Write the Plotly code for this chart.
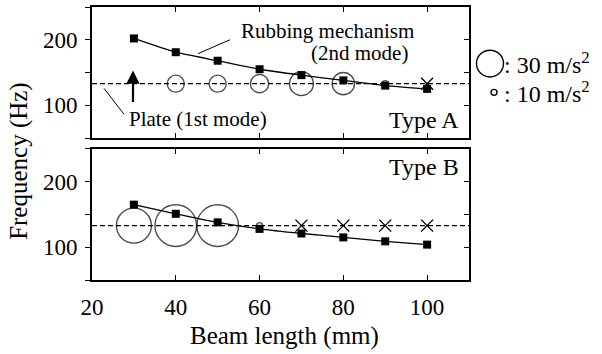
import plotly.graph_objects as go

# ---------------- data ----------------
beam_length = [30, 40, 50, 60, 70, 80, 90, 100]
rubbing_A = [202, 181, 168, 155, 146, 138, 130, 125]
rubbing_B = [165, 151, 138, 128, 121, 115, 109, 104]
plate_freq = 133

# response amplitude (m/s^2) at plate-mode frequency
resp_len_A = [40, 50, 60, 70, 80, 90]
resp_amp_A = [20.5, 20.5, 21.7, 27.0, 25.5, 10.0]
none_len_A = [100]

resp_len_B = [30, 40, 50, 60]
resp_amp_B = [37.6, 44.0, 44.0, 10.0]
none_len_B = [70, 80, 90, 100]

legend_amps = [30, 10]
x_ticks = [20, 40, 60, 80, 100]
y_ticks = [50, 100, 150, 200, 250]
y_ticktext = ["", "100", "", "200", ""]

# ---------------- figure ----------------
FONT = "Liberation Serif"
W, H = 602, 354
L, R, T, B = 92, 133, 5, 74
PW, PH = W - L - R, H - T - B


def amp_to_px(a):
    return 1.05 * a - 4.5


def px(xp):
    return (xp - L) / PW


def py(yp):
    return (H - B - yp) / PH


fig = go.Figure()
LW = 1.4

for sub, (rub, rl, ra, nl) in enumerate(
    [(rubbing_A, resp_len_A, resp_amp_A, none_len_A),
     (rubbing_B, resp_len_B, resp_amp_B, none_len_B)]):
    xa = "x" if sub == 0 else "x2"
    ya = "y" if sub == 0 else "y2"
    fig.add_trace(go.Scatter(x=[min(x_ticks), 110], y=[plate_freq, plate_freq], mode="lines",
                             line=dict(color="black", width=1.3, dash="5px,3px"),
                             xaxis=xa, yaxis=ya, showlegend=False, hoverinfo="skip"))
    fig.add_trace(go.Scatter(x=rl, y=[plate_freq] * len(rl), mode="markers",
                             marker=dict(symbol="circle-open", color="black",
                                         size=[amp_to_px(a) for a in ra],
                                         line=dict(width=LW, color="black")),
                             xaxis=xa, yaxis=ya, showlegend=False))
    fig.add_trace(go.Scatter(x=nl, y=[plate_freq] * len(nl), mode="markers",
                             marker=dict(symbol="x-thin-open", color="black", size=12,
                                         line=dict(width=LW, color="black")),
                             xaxis=xa, yaxis=ya, showlegend=False))
    fig.add_trace(go.Scatter(x=beam_length, y=rub, mode="lines+markers",
                             line=dict(color="black", width=1.3, shape="spline", smoothing=0.6),
                             marker=dict(symbol="square", color="black", size=8),
                             xaxis=xa, yaxis=ya, showlegend=False))

# invisible traces for right-side tick axes
fig.add_trace(go.Scatter(x=[None], y=[None], xaxis="x", yaxis="y3", showlegend=False))
fig.add_trace(go.Scatter(x=[None], y=[None], xaxis="x2", yaxis="y4", showlegend=False))

tickfont = dict(family=FONT, size=23, color="black")
xcommon = dict(range=[20, 110], tickvals=x_ticks, ticks="inside", ticklen=5, tickwidth=1.3,
               showline=True, linewidth=2, linecolor="black", mirror="ticks",
               showgrid=False, zeroline=False, tickfont=tickfont, tickcolor="black")
ycommon = dict(range=[50, 250], tickvals=y_ticks, ticktext=y_ticktext, ticks="outside",
               ticklen=5, tickwidth=1.3, showline=True, linewidth=2, linecolor="black",
               mirror=True, showgrid=False, zeroline=False, tickfont=tickfont,
               tickcolor="black", ticklabelstandoff=3)
yright = dict(range=[50, 250], tickvals=y_ticks, ticks="inside", ticklen=5, tickwidth=1.3,
              showticklabels=False, showline=False, showgrid=False, zeroline=False,
              side="right", tickcolor="black")

top_dom = [(H - B - 137) / PH, 1]
bot_dom = [0, (H - B - 148) / PH]

fig.update_layout(
    width=W, height=H, margin=dict(l=L, r=R, t=T, b=B),
    paper_bgcolor="white", plot_bgcolor="white",
    font=dict(family=FONT, color="black"),
    xaxis=dict(**xcommon, anchor="y", showticklabels=False),
    xaxis2=dict(**xcommon, anchor="y2", showticklabels=True, ticklabelstandoff=5),
    yaxis=dict(**ycommon, domain=top_dom, anchor="x"),
    yaxis2=dict(**ycommon, domain=bot_dom, anchor="x2"),
    yaxis3=dict(**yright, overlaying="y", anchor="x"),
    yaxis4=dict(**yright, overlaying="y2", anchor="x2"),
)

ann_font = dict(family=FONT, size=21, color="black")
big_font = dict(family=FONT, size=24, color="black")
title_font = dict(family=FONT, size=25, color="black")
annotations = [
    dict(text="Rubbing mechanism", x=px(327), y=py(29)),
    dict(text="(2nd mode)", x=px(359), y=py(51)),
    dict(text="Plate (1st mode)", x=px(198), y=py(118)),
    dict(text="Type A", x=px(461), y=py(119), xanchor="right", font=big_font),
    dict(text="Type B", x=px(461), y=py(166), xanchor="right", font=big_font),
    dict(text=": %d m/s<sup>2</sup>" % legend_amps[0], x=px(502), y=py(61),
         xanchor="left", font=big_font),
    dict(text=": %d m/s<sup>2</sup>" % legend_amps[1], x=px(502), y=py(91),
         xanchor="left", font=big_font),
    dict(text="Frequency (Hz)", x=px(19), y=py(160), textangle=-90, font=title_font),
    dict(text="Beam length (mm)", x=px(284), y=py(336), font=title_font),
]
for a in annotations:
    a.setdefault("xanchor", "center")
    a.setdefault("font", ann_font)
    fig.add_annotation(xref="paper", yref="paper", yanchor="middle", showarrow=False, **a)

# arrow at 30 mm (Type A)
fig.add_annotation(xref="paper", yref="paper", axref="pixel", ayref="pixel",
                   x=px(133), y=py(69), ax=0, ay=33, text="",
                   showarrow=True, arrowhead=2, arrowsize=1.2, arrowwidth=2.2,
                   arrowcolor="black")

# leader lines
for (x0, y0, x1, y1) in [(198, 52, 230, 38), (104, 87, 124, 113)]:
    fig.add_shape(type="line", xref="paper", yref="paper",
                  x0=px(x0), y0=py(y0), x1=px(x1), y1=py(y1),
                  line=dict(color="black", width=1))

# legend circles
for amp, (cx, cy) in zip(legend_amps, [(490, 62), (494, 91)]):
    r = amp_to_px(amp) / 2
    fig.add_shape(type="circle", xref="paper", yref="paper",
                  x0=px(cx - r), x1=px(cx + r), y0=py(cy + r), y1=py(cy - r),
                  line=dict(color="black", width=LW))

fig.write_html("out.html", config={"displayModeBar": False},
               post_script="document.body.style.margin='0px';document.body.style.padding='0px';")
